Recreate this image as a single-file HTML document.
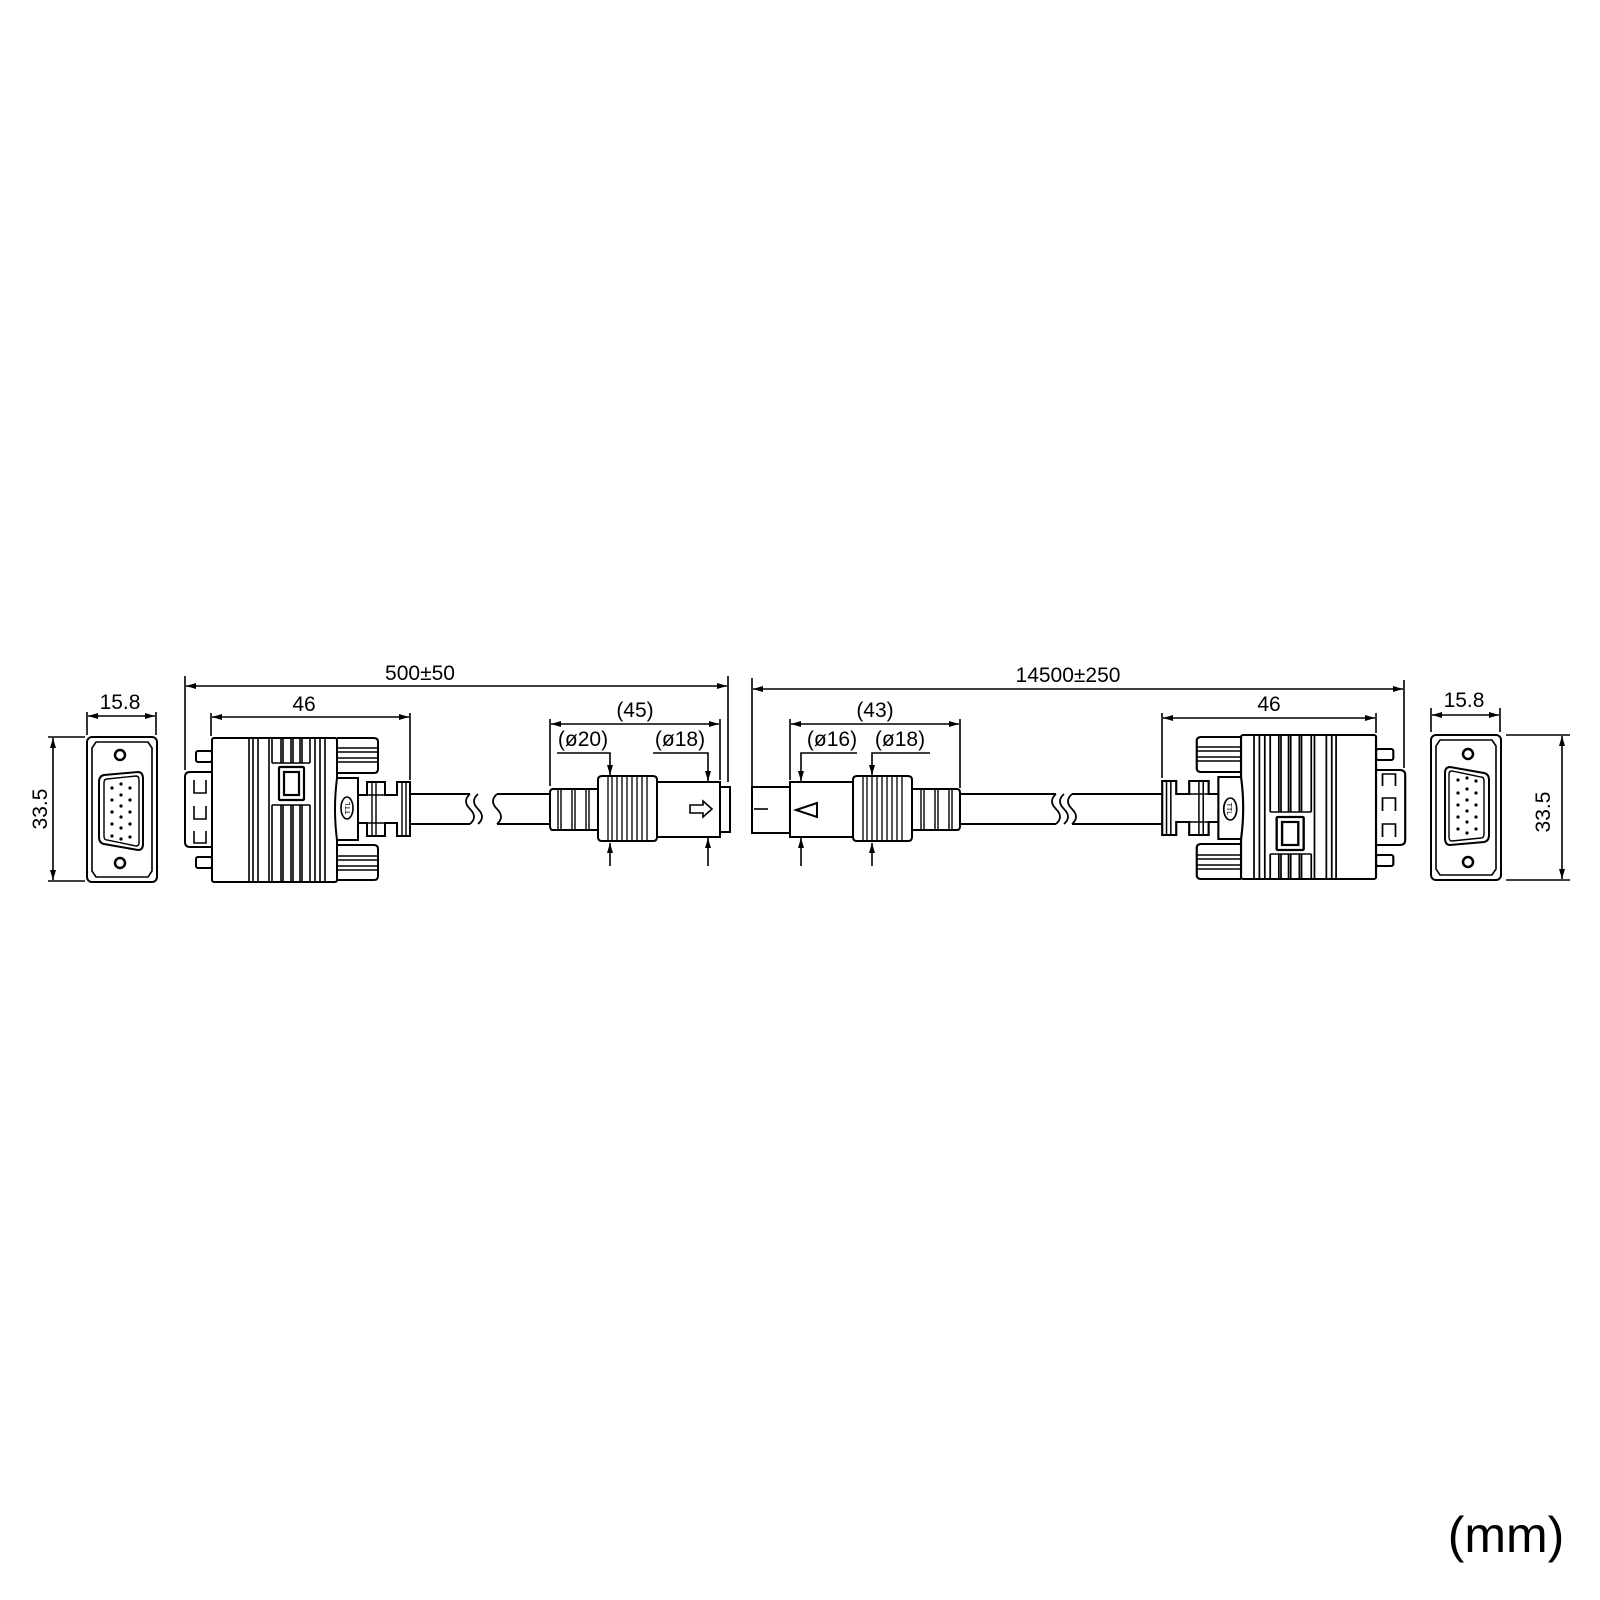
<!DOCTYPE html>
<html><head><meta charset="utf-8"><style>
html,body{margin:0;padding:0;background:#fff}
svg{display:block}
text{font-family:"Liberation Sans",sans-serif;fill:#000}
</style></head><body>
<svg width="1600" height="1600" viewBox="0 0 1600 1600" xmlns="http://www.w3.org/2000/svg">
<defs>
<marker id="a" viewBox="0 0 10 6" refX="10" refY="3" markerWidth="10" markerHeight="6" markerUnits="userSpaceOnUse" orient="auto-start-reverse"><path d="M0,0 L10,3 L0,6 Z" fill="#000"/></marker>
<g id="front">
  <rect x="87" y="737" width="70" height="145" rx="5" fill="none" stroke="#000" stroke-width="2"/>
  <path d="M96,742 H148 L152,748 V871 L148,877 H96 L92,871 V748 Z" fill="none" stroke="#000" stroke-width="1.6"/>
  <circle cx="120" cy="755" r="5" fill="none" stroke="#000" stroke-width="2.5"/>
  <circle cx="120" cy="863" r="5" fill="none" stroke="#000" stroke-width="2.5"/>
  <path d="M104,775 Q99,776 99,782 V837 Q99,843 104,844 L138,850 Q143,850 143,844 V779 Q143,772 138,772 Z" fill="none" stroke="#000" stroke-width="2"/>
  <path d="M107,779 L136,776 Q139,776 139,780 V843 Q139,846 136,846 L107,840 Q104,840 104,836 V783 Q104,779 107,779 Z" fill="none" stroke="#000" stroke-width="1.4"/>
  <g fill="#000">
    <circle cx="112" cy="788" r="1.6"/><circle cx="112" cy="800" r="1.6"/><circle cx="112" cy="812" r="1.6"/><circle cx="112" cy="824" r="1.6"/><circle cx="112" cy="836" r="1.6"/>
    <circle cx="121" cy="784" r="1.6"/><circle cx="121" cy="795" r="1.6"/><circle cx="121" cy="806" r="1.6"/><circle cx="121" cy="817" r="1.6"/><circle cx="121" cy="828" r="1.6"/><circle cx="121" cy="839" r="1.6"/>
    <circle cx="130" cy="788" r="1.6"/><circle cx="130" cy="800" r="1.6"/><circle cx="130" cy="812" r="1.6"/><circle cx="130" cy="824" r="1.6"/><circle cx="130" cy="837" r="1.6"/>
  </g>
</g>
<g id="conn" fill="none" stroke="#000" stroke-width="2">
  <rect x="196" y="751" width="16" height="11" rx="2"/>
  <rect x="196" y="857" width="16" height="11" rx="2"/>
  <path d="M212,772 H190 Q185,772 185,777 V842 Q185,847 190,847 H212"/>
  <path d="M194,780 V793 H206 V780 M194,806 V819 H206 V806 M194,831 V843 H206 V831" stroke-width="1.6"/>
  <rect x="212" y="738" width="125" height="144" rx="2" fill="#fff"/>
  <g stroke-width="1.6">
    <path d="M249,738 V882 M253,738 V882 M258,738 V882 M269,738 V882 M315,738 V882 M320,738 V882 M325,738 V882"/>
    <path d="M272,738 V763 M281,738 V763 M283,738 V763 M291,738 V763 M293,738 V763 M300,738 V763 M302,738 V763 M310,738 V763 M272,763 H310"/>
    <path d="M272,805 V882 M281,805 V882 M283,805 V882 M291,805 V882 M293,805 V882 M300,805 V882 M302,805 V882 M310,805 V882 M272,805 H310"/>
  </g>
  <rect x="279" y="767" width="25" height="33" rx="1" stroke-width="2.2"/>
  <rect x="284" y="772" width="15" height="23" stroke-width="2.2"/>
  <path d="M337,738 H374 Q378,738 378,742 V769 Q378,773 374,773 H337"/>
  <path d="M337,748 H378 M337,752 H378 M337,758 H378 M337,762 H378" stroke-width="1.4"/>
  <path d="M337,845 H374 Q378,845 378,849 V876 Q378,880 374,880 H337"/>
  <path d="M337,856 H378 M337,860 H378 M337,866 H378 M337,870 H378" stroke-width="1.4"/>
  <path d="M337,778 H358 V840 H337 Q333,809 337,778 Z" fill="#fff"/>
  <ellipse cx="347" cy="808" rx="6" ry="11" stroke-width="1.6"/>
  <text x="347" y="811" font-size="7" text-anchor="middle" transform="rotate(-90 347 808)" stroke="none">TTL</text>
  <path d="M358,795 H367 V782 H385 V795 H397 V782 H410 V836 H397 V823 H385 V836 H367 V823 H358"/>
  <path d="M372,782 V836 M376,782 V836 M402,782 V836 M406,782 V836 M367,795 H397 M367,823 H397" stroke-width="1.4"/>
</g>
</defs>

<use href="#front"/>
<use href="#front" transform="matrix(-1,0,0,-1,1588,1617)"/>
<use href="#conn"/>
<use href="#conn" transform="matrix(-1.08,0,0,-1,1605,1617)"/>

<g fill="none" stroke="#000" stroke-width="1.6">
  <path d="M87,712 V735 M156,712 V735"/>
  <path d="M88,716 H155" marker-start="url(#a)" marker-end="url(#a)"/>
  <path d="M48,737 H85 M48,881 H85"/>
  <path d="M53,738 V880" marker-start="url(#a)" marker-end="url(#a)"/>
  <path d="M1431,708 V732 M1500,708 V732"/>
  <path d="M1432,715 H1499" marker-start="url(#a)" marker-end="url(#a)"/>
  <path d="M1506,735 H1570 M1506,880 H1570"/>
  <path d="M1562,736 V879" marker-start="url(#a)" marker-end="url(#a)"/>
  <path d="M185,676 V770 M728,676 V782"/>
  <path d="M186,686 H727" marker-start="url(#a)" marker-end="url(#a)"/>
  <path d="M211,713 V736 M410,713 V780"/>
  <path d="M212,717 H409" marker-start="url(#a)" marker-end="url(#a)"/>
  <path d="M752,678 V790 M1404,680 V768"/>
  <path d="M753,689 H1403" marker-start="url(#a)" marker-end="url(#a)"/>
  <path d="M1162,713 V778 M1376,713 V733"/>
  <path d="M1163,718 H1375" marker-start="url(#a)" marker-end="url(#a)"/>
  <path d="M550,719 V786 M720,719 V780"/>
  <path d="M551,724 H719" marker-start="url(#a)" marker-end="url(#a)"/>
  <path d="M557,753 H610 V775" marker-end="url(#a)"/>
  <path d="M610,866 V843" marker-end="url(#a)"/>
  <path d="M653,753 H708 V781" marker-end="url(#a)"/>
  <path d="M708,866 V838" marker-end="url(#a)"/>
  <path d="M790,719 V780 M960,719 V788"/>
  <path d="M791,724 H959" marker-start="url(#a)" marker-end="url(#a)"/>
  <path d="M857,753 H801 V781" marker-end="url(#a)"/>
  <path d="M801,866 V838" marker-end="url(#a)"/>
  <path d="M930,753 H872 V775" marker-end="url(#a)"/>
  <path d="M872,866 V843" marker-end="url(#a)"/>
</g>

<g fill="none" stroke="#000" stroke-width="2">
  <path d="M410,794 H470 M410,824 H470"/>
  <path d="M470,794 Q462,801 470,809 Q478,817 470,824 M478,794 Q470,801 478,809 Q486,817 478,824" stroke-width="1.8"/>
  <path d="M497,794 H550 M497,824 H550"/>
  <path d="M497,794 Q489,801 497,809 Q505,817 497,824" stroke-width="1.8"/>
  <path d="M553,789 H598 V830 H553 Q550,830 550,826 V793 Q550,789 553,789 Z" fill="#fff"/>
  <path d="M558,789 V830 M561,789 V830 M572,789 V830 M575,789 V830 M586,789 V830 M589,789 V830" stroke-width="1.4"/>
  <path d="M602,776 H653 Q657,776 657,780 V837 Q657,841 653,841 H602 Q598,841 598,837 V780 Q598,776 602,776 Z" fill="#fff"/>
  <path d="M608,777 V840 M612,777 V840 M617,777 V840 M622,777 V840 M627,777 V840 M632,777 V840 M637,777 V840 M642,777 V840 M647,777 V840" stroke-width="1.3"/>
  <rect x="657" y="782" width="63" height="55"/>
  <rect x="720" y="787" width="10" height="45"/>
  <path d="M690,805 H703 V801 L712,809 L703,817 V813 H690 Z" stroke-width="1.6"/>

  <rect x="752" y="787" width="38" height="46"/>
  <path d="M754,809 H768" stroke-width="1.6"/>
  <rect x="790" y="782" width="63" height="55"/>
  <path d="M817,803 L796,810 L817,817 Z" stroke-width="2"/>
  <path d="M857,776 H908 Q912,776 912,780 V837 Q912,841 908,841 H857 Q853,841 853,837 V780 Q853,776 857,776 Z" fill="#fff"/>
  <path d="M863,777 V840 M867,777 V840 M872,777 V840 M877,777 V840 M882,777 V840 M887,777 V840 M892,777 V840 M897,777 V840 M902,777 V840" stroke-width="1.3"/>
  <path d="M912,789 H957 Q960,789 960,793 V826 Q960,830 957,830 H912 Z" fill="#fff"/>
  <path d="M921,789 V830 M924,789 V830 M935,789 V830 M938,789 V830 M949,789 V830 M952,789 V830" stroke-width="1.4"/>
  <path d="M960,794 H1056 M960,824 H1056"/>
  <path d="M1056,794 Q1048,801 1056,809 Q1064,817 1056,824" stroke-width="1.8"/>
  <path d="M1072,794 H1162 M1072,824 H1162"/>
  <path d="M1064,794 Q1056,801 1064,809 Q1072,817 1064,824 M1072,794 Q1064,801 1072,809 Q1080,817 1072,824" stroke-width="1.8"/>
</g>

<g font-size="21" text-anchor="middle">
  <text x="120" y="709">15.8</text>
  <text x="1464" y="707">15.8</text>
  <text x="420" y="680">500±50</text>
  <text x="1068" y="682">14500±250</text>
  <text x="304" y="711">46</text>
  <text x="1269" y="711">46</text>
  <text x="635" y="717">(45)</text>
  <text x="875" y="717">(43)</text>
  <text x="583" y="746">(ø20)</text>
  <text x="680" y="746">(ø18)</text>
  <text x="832" y="746">(ø16)</text>
  <text x="900" y="746">(ø18)</text>
  <text x="0" y="0" transform="translate(47,809) rotate(-90)">33.5</text>
  <text x="0" y="0" transform="translate(1550,812) rotate(-90)">33.5</text>
</g>
<text x="1506" y="1552" font-size="50" text-anchor="middle">(mm)</text>
</svg>
</body></html>
